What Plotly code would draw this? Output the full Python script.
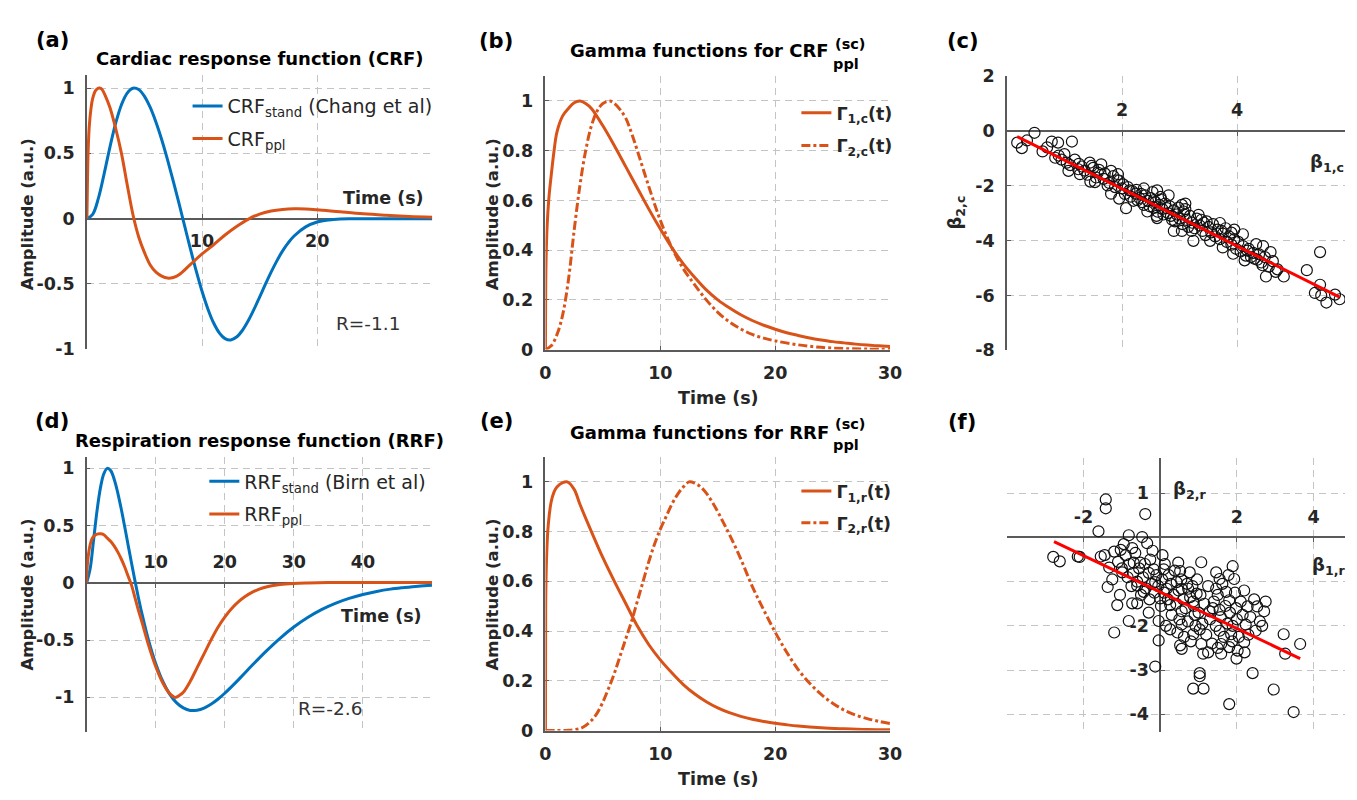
import plotly.graph_objects as go

W, H = 1357, 800

# ---------------- data ----------------
# (a) cardiac response functions
crf_std_t = [0, 0.5, 1, 1.5, 2, 2.5, 3, 3.5, 4, 4.5, 5, 5.5, 6, 6.5, 7, 7.5, 8, 8.5, 9, 9.5, 10, 10.5,
             11, 11.5, 12, 12.5, 13, 13.5, 14, 14.5, 15, 15.5, 16, 16.5, 17, 17.5, 18, 19, 20, 21, 22,
             23, 24, 26, 28, 30]
crf_std_v = [0, 0.033, 0.157, 0.345, 0.548, 0.731, 0.872, 0.961, 0.998, 0.988, 0.936, 0.851, 0.738,
             0.604, 0.452, 0.288, 0.116, -0.060, -0.235, -0.402, -0.556, -0.689, -0.797, -0.874,
             -0.918, -0.928, -0.906, -0.856, -0.784, -0.697, -0.601, -0.503, -0.409, -0.323, -0.247,
             -0.184, -0.133, -0.063, -0.026, -0.010, -0.003, -0.001, 0.0, 0.0, 0.0, 0.0]
crf_ppl_t = [0, 0.05, 0.1, 0.2, 0.35, 0.5, 0.75, 1.0, 1.1, 1.3, 1.6, 2.0, 2.5, 3.0, 3.5, 4.0, 4.5,
             5.0, 5.5, 6.0, 6.5, 7.0, 7.5, 8.0, 9.0, 10.0, 11.0, 12.0, 13.0, 14.0, 15.0, 16.0, 17.0,
             18.0, 19.0, 20.0, 22.0, 24.0, 26.0, 28.0, 30.0]
crf_ppl_v = [0, 0.3, 0.5, 0.7, 0.84, 0.92, 0.98, 0.999, 1.0, 0.99, 0.94, 0.85, 0.69, 0.5, 0.26, 0.03,
             -0.14, -0.26, -0.355, -0.41, -0.44, -0.455, -0.45, -0.43, -0.35, -0.27, -0.2, -0.125,
             -0.06, -0.005, 0.035, 0.058, 0.07, 0.075, 0.074, 0.068, 0.052, 0.037, 0.026, 0.017, 0.011]

# (b) gamma functions for CRF
gam1c_t = [0, 0.05, 0.15, 0.3, 0.5, 0.75, 1, 1.5, 2, 2.5, 3, 3.5, 4, 5, 6, 7, 8, 9, 10, 11, 12, 13,
           14, 15, 16, 17, 18, 19, 20, 21, 22, 23, 24, 25, 26, 27, 28, 29, 30]
gam1c_v = [0, 0.35, 0.5, 0.61, 0.7, 0.8, 0.875, 0.94, 0.97, 0.993, 1.0, 0.99, 0.97, 0.90, 0.82, 0.735,
           0.65, 0.565, 0.485, 0.41, 0.345, 0.29, 0.24, 0.2, 0.168, 0.14, 0.117, 0.098, 0.082, 0.068,
           0.057, 0.047, 0.039, 0.032, 0.027, 0.022, 0.018, 0.015, 0.012]
gam2c_t = [0, 0.5, 1, 1.5, 2, 2.5, 3, 3.5, 4, 4.5, 5, 5.6, 6, 6.5, 7, 7.5, 8, 9, 10, 11, 12, 13, 14,
           15, 16, 17, 18, 19, 20, 22, 24, 26, 28, 30]
gam2c_v = [0, 0.015, 0.06, 0.14, 0.28, 0.48, 0.66, 0.8, 0.9, 0.96, 0.99, 1.0, 0.99, 0.965, 0.93, 0.87,
           0.8, 0.655, 0.52, 0.41, 0.325, 0.26, 0.2, 0.15, 0.112, 0.083, 0.061, 0.046, 0.035, 0.019,
           0.009, 0.004, 0.002, 0.001]

# (c) beta weights, cardiac
beta1c = [0.18, 0.26, 0.48, 0.78, 0.89, 1.13, 0.84, 0.90, 1.04, 1.07, 1.24, 1.27, 1.44, 1.47, 1.64,
          1.53, 1.58, 1.81, 1.93, 1.95, 1.81, 1.95, 2.07, 1.75, 2.13, 2.24, 2.27, 2.38, 2.44, 2.53,
          2.61, 2.67, 2.81, 2.55, 2.61, 2.78, 2.87, 2.90, 3.04, 3.10, 3.07, 3.04, 3.21, 3.24, 3.33,
          3.38, 3.47, 3.53, 3.70, 3.73, 3.75, 3.90, 3.93, 4.10, 4.13, 4.18, 4.33, 4.30, 4.44, 4.50,
          4.58, 4.67, 4.81, 5.21, 5.44, 5.44, 5.35, 5.46, 5.55, 5.70, 5.78,
          1.30, 1.35, 1.40, 1.50, 1.55, 1.60, 1.68, 1.70, 1.78, 1.85, 1.88, 1.92, 2.00, 2.02, 2.05,
          2.10, 2.15, 2.18, 2.20, 2.25, 2.30, 2.33, 2.35, 2.40, 2.45, 2.48, 2.50, 2.55, 2.58, 2.62,
          2.65, 2.68, 2.70, 2.72, 2.75, 2.80, 2.83, 2.85, 2.90, 2.92, 2.95, 2.98, 3.00, 3.05, 3.08,
          3.12, 3.15, 3.18, 3.22, 3.26, 3.30, 3.35, 3.40, 3.42, 3.45, 3.50, 3.55, 3.58, 3.62, 3.66,
          3.70, 3.75, 3.80, 3.82, 3.86, 3.90, 3.95, 3.98, 4.02, 4.06, 4.10, 4.15, 4.20, 4.24, 4.28,
          4.35, 4.38, 4.42, 4.48, 4.55, 4.62, 4.70, 0.95, 1.00, 1.10, 1.18, 0.70, 0.62, 0.35, 1.25,
          1.45, 2.60, 3.10, 3.95, 4.45, 2.38]
beta2c = [-0.43, -0.63, -0.07, -0.39, -0.43, -0.39, -0.98, -0.90, -1.16, -1.46, -1.40, -1.58, -1.16,
          -1.28, -1.22, -1.87, -1.52, -1.46, -1.58, -1.81, -2.29, -2.47, -2.82, -1.99, -2.17, -2.29,
          -2.53, -2.70, -2.94, -2.23, -2.17, -2.41, -2.35, -2.53, -3.18, -2.82, -3.24, -3.65, -2.70,
          -2.65, -2.94, -3.65, -3.65, -4.01, -3.06, -3.24, -3.30, -4.01, -3.36, -3.65, -4.25, -3.71,
          -4.48, -3.77, -4.72, -4.37, -4.13, -4.66, -4.90, -5.31, -4.42, -5.14, -5.31, -5.08, -4.42,
          -5.61, -5.91, -6.00, -6.26, -5.97, -6.14,
          -1.30, -1.45, -1.60, -1.35, -1.70, -1.42, -1.75, -1.55, -1.90, -1.65, -2.05, -1.80, -2.10,
          -1.95, -2.30, -2.05, -2.40, -2.20, -2.55, -2.15, -2.45, -2.30, -2.60, -2.35, -2.55, -2.75,
          -2.45, -2.80, -2.60, -2.95, -2.70, -2.50, -2.85, -3.05, -2.65, -3.00, -2.75, -3.10, -2.90,
          -3.30, -3.05, -2.80, -3.20, -3.40, -3.05, -3.25, -3.50, -3.10, -3.35, -3.55, -3.20, -3.45,
          -3.65, -3.35, -3.80, -3.50, -3.70, -3.40, -3.85, -3.60, -3.95, -3.75, -3.55, -4.05, -3.85,
          -4.15, -3.95, -4.30, -4.05, -4.40, -4.20, -4.55, -4.30, -4.60, -4.45, -4.70, -4.50, -4.80,
          -4.60, -4.95, -4.75, -5.05, -1.05, -0.85, -1.25, -1.05, -0.60, -0.75, -0.35, -1.20, -1.85,
          -3.10, -2.85, -3.60, -4.20, -2.10]
fitc_x = [0.18, 5.78]
fitc_y = [-0.21, -6.06]

# (d) respiration response functions
rrf_std_t = [0, 0.5, 1, 1.5, 2, 2.5, 3, 3.5, 4, 4.5, 5, 5.5, 6, 6.5, 7, 7.5, 8, 9, 10, 11, 12, 13,
             14, 15, 16, 17, 18, 19, 20, 22, 24, 26, 28, 30, 32, 34, 36, 38, 40, 42, 44, 46, 48, 50]
rrf_std_v = [0, 0.118, 0.368, 0.626, 0.829, 0.954, 0.999, 0.978, 0.902, 0.788, 0.648, 0.493, 0.333,
             0.173, 0.017, -0.130, -0.267, -0.509, -0.704, -0.857, -0.969, -1.046, -1.092, -1.114,
             -1.112, -1.093, -1.060, -1.016, -0.964, -0.845, -0.718, -0.596, -0.484, -0.386, -0.303,
             -0.234, -0.179, -0.136, -0.102, -0.075, -0.055, -0.041, -0.029, -0.021]
rrf_ppl_t = [0, 0.1, 0.25, 0.5, 0.75, 1, 1.5, 2, 2.5, 3, 3.5, 4, 4.5, 5, 5.5, 6, 6.5, 7, 7.5, 8, 9,
             10, 11, 12, 12.8, 13.5, 14, 15, 16, 17, 18, 19, 20, 21, 22, 23, 24, 25, 26, 27, 28, 30,
             32, 35, 40, 45, 50]
rrf_ppl_v = [0, 0.15, 0.24, 0.33, 0.38, 0.405, 0.425, 0.428, 0.42, 0.39, 0.36, 0.32, 0.27, 0.21,
             0.14, 0.06, -0.02, -0.13, -0.24, -0.34, -0.55, -0.73, -0.87, -0.965, -1.0, -0.98,
             -0.955, -0.86, -0.74, -0.62, -0.5, -0.39, -0.3, -0.225, -0.165, -0.118, -0.082, -0.055,
             -0.036, -0.023, -0.014, -0.005, -0.001, 0.002, 0.003, 0.003, 0.003]

# (e) gamma functions for RRF
gam1r_t = [0, 0.02, 0.1, 0.25, 0.5, 0.75, 1, 1.5, 1.9, 2.5, 3, 4, 5, 6, 7, 8, 9, 10, 11, 12, 13, 14,
           15, 16, 17, 18, 19, 20, 21, 22, 24, 26, 28, 30]
gam1r_v = [0, 0.5, 0.7, 0.83, 0.92, 0.96, 0.98, 0.997, 1.0, 0.97, 0.91, 0.8, 0.695, 0.6, 0.51, 0.42,
           0.345, 0.284, 0.232, 0.185, 0.147, 0.116, 0.091, 0.072, 0.057, 0.045, 0.036, 0.029,
           0.023, 0.018, 0.011, 0.007, 0.004, 0.003]
gam2r_t = [0, 1, 2, 3, 3.5, 4, 4.5, 5, 5.5, 6, 6.5, 7, 7.5, 8, 8.5, 9, 9.5, 10, 10.5, 11, 11.5, 12,
           12.5, 13, 13.5, 14, 14.5, 15, 15.5, 16, 17, 18, 19, 20, 21, 22, 23, 24, 25, 26, 27, 28,
           29, 30]
gam2r_v = [0, 0, 0.001, 0.008, 0.02, 0.04, 0.07, 0.115, 0.17, 0.23, 0.3, 0.37, 0.44, 0.52, 0.6, 0.68,
           0.75, 0.81, 0.86, 0.91, 0.95, 0.98, 1.0, 0.995, 0.98, 0.955, 0.92, 0.88, 0.835, 0.79,
           0.69, 0.58, 0.485, 0.395, 0.315, 0.245, 0.19, 0.145, 0.11, 0.082, 0.062, 0.048, 0.037,
           0.028]

# (f) beta weights, respiration
beta1r = [-1.42, -1.42, -0.39, -1.61, -2.79, -2.62, -2.15, -2.10, -1.55, -1.33, -1.20, -1.03, -0.82,
          -0.73, -0.47, -0.34, -0.52, -0.69, -0.99, -1.37, -1.12, -0.82, -1.20, -0.60, -0.73, -0.60,
          -0.43, -0.26, -0.17, -0.13, 0.00, -0.04, -0.04, -0.13, 0.06, 0.09, 0.17, 0.26, 0.26, 0.47,
          0.52, 0.43, 0.56, 0.56, 0.56, 0.52, 0.56, 0.73, 0.77, 0.86, 0.95, 0.90, 0.86, 1.03, 1.07,
          1.12, 1.07, 1.03, 1.03, 0.86, 1.13, 1.29, 1.37, 1.46, 1.55, 1.46, 1.55, 1.55, 1.59, 1.59,
          1.72, 1.80, 1.89, 1.93, 1.89, 1.85, 1.80, 2.02, 1.99, 1.80, 1.98, 2.19, 2.28, 2.23, 2.19,
          2.53, 2.71, 2.49, 2.66, 2.41, 2.96, 3.22, 3.26, 3.65, 3.48,
          -1.10, -1.00, -0.90, -0.85, -0.80, -0.75, -0.70, -0.65, -0.60, -0.55, -0.50, -0.45, -0.40,
          -0.38, -0.30, -0.28, -0.22, -0.20, -0.15, -0.10, -0.05, 0.02, 0.05, 0.10, 0.12, 0.20, 0.22,
          0.28, 0.30, 0.35, 0.38, 0.42, 0.48, 0.50, 0.55, 0.60, 0.62, 0.66, 0.70, 0.72, 0.78, 0.80,
          0.84, 0.88, 0.92, 0.96, 1.00, 1.05, 1.10, 1.15, 1.20, 1.25, 1.30, 1.35, 1.40, 1.45, 1.50,
          1.58, 1.62, 1.66, 1.70, 1.75, 1.78, 1.82, 1.88, 1.95, 2.00, 2.05, 2.10, 2.15, 2.30, 2.35,
          2.45, 2.60, 2.75, -1.25, -1.05, -0.95, -1.45, -0.30, 0.15, 0.45, 1.25, 1.50, 2.20]
beta2r = [0.86, 0.66, 0.53, 0.14, -0.44, -0.54, -0.43, -0.44, -0.43, -0.68, -0.32, -0.28, 0.05,
          -0.24, 0.01, -0.13, -0.57, -0.57, -0.79, -1.12, -1.53, -1.89, -2.15, -1.09, -1.49, -1.49,
          -1.23, -0.50, -0.72, -1.01, -1.38, -1.89, -2.33, -2.92, -0.40, -0.72, -1.16, -1.53, -2.08,
          -0.57, -0.76, -1.01, -1.16, -1.67, -1.97, -2.44, -2.52, -1.16, -0.79, -1.45, -1.27, -1.75,
          -2.19, -2.08, -2.41, -2.63, -0.56, -3.07, -3.14, -3.42, -3.42, -1.67, -1.60, -0.79, -0.94,
          -1.16, -1.64, -2.11, -2.41, -2.63, -1.23, -1.42, -0.65, -0.94, -2.00, -2.19, -2.48, -2.56,
          -2.74, -3.77, -1.60, -1.20, -1.56, -1.97, -2.37, -1.56, -1.67, -2.11, -2.00, -3.07, -3.44,
          -2.19, -2.63, -2.41, -3.95,
          -0.55, -0.70, -0.40, -0.90, -0.60, -1.10, -0.80, -0.35, -1.00, -0.70, -1.30, -0.90, -0.60,
          -1.15, -0.80, -1.40, -1.05, -0.30, -1.25, -0.85, -1.10, -1.55, -0.95, -1.25, -0.60, -1.40,
          -0.85, -1.05, -1.75, -1.30, -0.75, -1.50, -1.20, -1.85, -0.95, -1.40, -2.25, -1.60, -1.05,
          -1.90, -1.35, -2.35, -1.10, -1.55, -2.00, -0.95, -1.70, -1.30, -1.95, -1.50, -2.20, -1.10,
          -1.85, -2.40, -1.45, -2.00, -1.30, -1.80, -1.05, -2.25, -1.55, -1.95, -0.85, -1.70, -2.35,
          -1.25, -1.85, -2.25, -1.45, -1.75, -2.20, -1.80, -1.40, -1.90, -1.45, -0.95, -1.30, -0.15,
          -0.40, -1.70, -2.00, -2.15, -2.60, -2.50, -2.60]
fitr_x = [-2.77, 3.65]
fitr_y = [-0.095, -2.74]

# ---------------- styling ----------------
BLUE = '#0072BD'
ORANGE = '#D95319'
FONT = 'DejaVu Sans'
TXT = '#262626'
LW = 3.0
GRID = '#c4c4c4'
SMOOTH = 1.0


def dom_x(p0, p1):
    return [p0 / W, p1 / W]


def dom_y(top, bot):
    return [1 - bot / H, 1 - top / H]


def zero_pos(dom, rng):
    return dom[0] + (0 - rng[0]) / (rng[1] - rng[0]) * (dom[1] - dom[0])


def base_axis(minor_vals=None, **kw):
    d = dict(showgrid=True, gridcolor=GRID, gridwidth=1, griddash='7px,5px', zeroline=False,
             showline=True, linecolor='#5a5a5a', linewidth=1.5, ticks='inside', ticklen=4,
             tickcolor='#5a5a5a', tickmode='array',
             tickfont=dict(family=FONT, size=17.5, color=TXT, weight='bold'),
             layer='below traces', fixedrange=True, ticklabelstandoff=7)
    if minor_vals is not None:
        d['minor'] = dict(tickmode='array', tickvals=minor_vals, showgrid=True, gridcolor=GRID,
                          gridwidth=1, griddash='7px,5px', ticks='')
    d.update(kw)
    return d


def curve(t, v, color, name, xa, ya, leg, grp, dash='solid'):
    return go.Scatter(x=t, y=v, mode='lines', name=name, xaxis=xa, yaxis=ya, legend=leg, legendgroup=grp,
                      line=dict(color=color, width=LW, dash=dash, shape='spline', smoothing=SMOOTH))


MARK = dict(symbol='circle-open', size=11, color='#111111', line=dict(width=1.2))

fig = go.Figure()
# (a)
fig.add_trace(curve(crf_std_t, crf_std_v, BLUE, 'CRF<sub>stand</sub> (Chang et al)', 'x', 'y', 'legend', 'a1'))
fig.add_trace(curve(crf_ppl_t, crf_ppl_v, ORANGE, 'CRF<sub>ppl</sub>', 'x', 'y', 'legend', 'a2'))
# (b)
fig.add_trace(curve(gam1c_t, gam1c_v, ORANGE, 'Γ<sub>1,c</sub>(t)', 'x2', 'y2', 'legend2', 'b1'))
fig.add_trace(curve(gam2c_t, gam2c_v, ORANGE, 'Γ<sub>2,c</sub>(t)', 'x2', 'y2', 'legend2', 'b2', 'dashdot'))
# (c)
fig.add_trace(go.Scatter(x=beta1c, y=beta2c, mode='markers', showlegend=False, xaxis='x3', yaxis='y3',
                         marker=MARK))
fig.add_trace(go.Scatter(x=fitc_x, y=fitc_y, mode='lines', showlegend=False, xaxis='x3', yaxis='y3',
                         line=dict(color='#FF0000', width=3)))
# (d)
fig.add_trace(curve(rrf_std_t, rrf_std_v, BLUE, 'RRF<sub>stand</sub> (Birn et al)', 'x4', 'y4', 'legend3', 'd1'))
fig.add_trace(curve(rrf_ppl_t, rrf_ppl_v, ORANGE, 'RRF<sub>ppl</sub>', 'x4', 'y4', 'legend3', 'd2'))
# (e)
fig.add_trace(curve(gam1r_t, gam1r_v, ORANGE, 'Γ<sub>1,r</sub>(t)', 'x5', 'y5', 'legend4', 'e1'))
fig.add_trace(curve(gam2r_t, gam2r_v, ORANGE, 'Γ<sub>2,r</sub>(t)', 'x5', 'y5', 'legend4', 'e2', 'dashdot'))
# (f)
fig.add_trace(go.Scatter(x=beta1r, y=beta2r, mode='markers', showlegend=False, xaxis='x6', yaxis='y6',
                         marker=MARK))
fig.add_trace(go.Scatter(x=fitr_x, y=fitr_y, mode='lines', showlegend=False, xaxis='x6', yaxis='y6',
                         line=dict(color='#FF0000', width=3)))

# ---------------- axes ----------------
ra_x, ra_y = [0, 30], [-1, 1.1]
da_x, da_y = dom_x(82, 432), dom_y(66.6, 348)
rb_x, rb_y = [0, 30], [0, 1.1]
db_x, db_y = dom_x(546.7, 896), dom_y(67.8, 348.3)
rc_x, rc_y = [0, 5.873], [-8, 2]
dc_x, dc_y = dom_x(1014.3, 1357), dom_y(67.7, 349)
rd_x, rd_y = [0, 50], [-1.3, 1.1]
dd_x, dd_y = dom_x(81.7, 431.7), dom_y(458.25, 740.25)
re_x, re_y = [0, 30], [0, 1.1]
de_x, de_y = dom_x(546.7, 896), dom_y(458.5, 739)
rf_x, rf_y = [-4, 4.82], [-4.39, 1.8]
df_x, df_y = dom_x(1014.3, 1357), dom_y(459.4, 740)

amp_vals = [-1, -0.5, 0, 0.5, 1]
amp_text = ['-1', '-0.5', '0', '0.5', '1']
gam_vals = [0, 0.2, 0.4, 0.6, 0.8, 1]
gam_text = ['0', '0.2', '0.4', '0.6', '0.8', '1']

fig.update_layout(
    xaxis=base_axis(domain=da_x, range=ra_x, anchor='free', position=zero_pos(da_y, ra_y), side='bottom',
                    tickvals=[10, 20], ticktext=['10', '20'], minor_vals=[30]),
    yaxis=base_axis(domain=da_y, range=ra_y, anchor='x', tickvals=amp_vals, ticktext=amp_text, minor_vals=[1.1]),
    xaxis2=base_axis(domain=db_x, range=rb_x, anchor='y2', tickvals=[0, 10, 20, 30], ticktext=['0', '10', '20', '30']),
    yaxis2=base_axis(domain=db_y, range=rb_y, anchor='x2', tickvals=gam_vals, ticktext=gam_text, minor_vals=[1.1]),
    xaxis3=base_axis(domain=dc_x, range=rc_x, anchor='free', position=zero_pos(dc_y, rc_y), side='top',
                     tickvals=[2, 4], ticktext=['2', '4']),
    yaxis3=base_axis(domain=dc_y, range=rc_y, anchor='x3', tickvals=[-8, -6, -4, -2, 0, 2],
                     ticktext=['-8', '-6', '-4', '-2', '0', '2']),
    xaxis4=base_axis(domain=dd_x, range=rd_x, anchor='free', position=zero_pos(dd_y, rd_y), side='top',
                     tickvals=[10, 20, 30, 40], ticktext=['10', '20', '30', '40'], minor_vals=[50]),
    yaxis4=base_axis(domain=dd_y, range=rd_y, anchor='x4', tickvals=amp_vals, ticktext=amp_text, minor_vals=[1.1]),
    xaxis5=base_axis(domain=de_x, range=re_x, anchor='y5', tickvals=[0, 10, 20, 30], ticktext=['0', '10', '20', '30']),
    yaxis5=base_axis(domain=de_y, range=re_y, anchor='x5', tickvals=gam_vals, ticktext=gam_text, minor_vals=[1.1]),
    xaxis6=base_axis(domain=df_x, range=rf_x, anchor='free', position=zero_pos(df_y, rf_y), side='top',
                     tickvals=[-2, 2, 4], ticktext=['-2', '2', '4'], minor_vals=[-4]),
    yaxis6=base_axis(domain=df_y, range=rf_y, anchor='free', position=zero_pos(df_x, rf_x),
                     tickvals=[-4, -3, -2, 1], ticktext=['-4', '-3', '-2', '1'], minor_vals=[-1]),
)

# ---------------- legends ----------------
def legend_at(px_text_left, py_top, bold, size, gap):
    return dict(x=(px_text_left - 40) / W, y=1 - py_top / H, xanchor='left', yanchor='top',
                bgcolor='rgba(0,0,0,0)', borderwidth=0, tracegroupgap=gap, traceorder='grouped',
                font=dict(family=FONT, size=size, color=TXT, weight='bold' if bold else 'normal'))


fig.update_layout(
    legend=legend_at(224, 79, False, 19, 5),
    legend2=legend_at(841, 87, True, 17.5, 7),
    legend3=legend_at(241, 464, False, 19, 5),
    legend4=legend_at(841, 475, True, 17.5, 6),
)

# ---------------- annotations ----------------
ann = []


def txt(text, px, py, size, bold=True, xanchor='center', yanchor='middle', angle=0, color=TXT):
    ann.append(dict(text=text, x=px / W, y=1 - py / H, xref='paper', yref='paper', showarrow=False,
                    xanchor=xanchor, yanchor=yanchor, textangle=angle,
                    font=dict(family=FONT, size=size, color=color, weight='bold' if bold else 'normal')))


# panel labels
for lab, px, py in [('(a)', 47, 31), ('(b)', 497, 31.7), ('(c)', 970, 31.7),
                    ('(d)', 47, 421.7), ('(e)', 497, 421.7), ('(f)', 969, 422.7)]:
    txt(lab, px, py, 21, color='#000000')

# titles
txt('Cardiac response function (CRF)', 257, 50, 18, color='#000000')
txt('Respiration response function (RRF)', 257, 441.7, 18, color='#000000')
txt('Gamma functions for CRF', 836, 42, 18, xanchor='right', color='#000000')
txt('(sc)', 838, 35, 14.5, xanchor='left', color='#000000')
txt('ppl', 836, 55.5, 14.5, xanchor='left', color='#000000')
txt('Gamma functions for RRF', 836, 433.3, 18, xanchor='right', color='#000000')
txt('(sc)', 838, 425, 14.5, xanchor='left', color='#000000')
txt('ppl', 836, 446.5, 14.5, xanchor='left', color='#000000')

# axis titles
txt('Amplitude (a.u.)', 21.7, 209, 16.5, angle=-90)
txt('Amplitude (a.u.)', 493, 209, 16.5, angle=-90)
txt('Amplitude (a.u.)', 21.7, 599, 16.5, angle=-90)
txt('Amplitude (a.u.)', 493, 599, 16.5, angle=-90)
txt('Time (s)', 426, 192.5, 17.5, xanchor='right')
txt('Time (s)', 424, 622, 17.5, xanchor='right')
txt('Time (s)', 722, 398, 17.5)
txt('Time (s)', 722, 789, 17.5)
txt('β<sub>2,c</sub>', 962.5, 208, 18, angle=-90)
txt('β<sub>1,c</sub>', 1320, 157, 18, xanchor='left')
txt('β<sub>1,r</sub>', 1321.7, 570, 18, xanchor='left')
txt('β<sub>2,r</sub>', 1180.7, 492, 18, xanchor='left')

# R values
txt('R=-1.1', 366.7, 321.7, 18.5, bold=False, color='#333333')
txt('R=-2.6', 328, 716, 18.5, bold=False, color='#333333')

fig.update_layout(
    annotations=ann,
    width=W, height=H,
    margin=dict(l=0, r=0, t=0, b=0),
    paper_bgcolor='white', plot_bgcolor='rgba(0,0,0,0)',
    font=dict(family=FONT, color=TXT),
    hovermode=False,
)

fig.write_html('out.html', config={'displayModeBar': False})
